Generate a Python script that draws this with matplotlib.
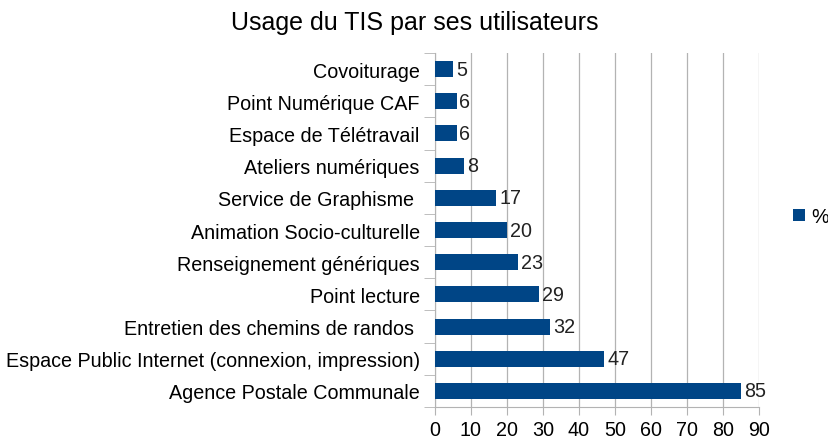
import matplotlib.pyplot as plt
import numpy as np

categories = [
    "Agence Postale Communale",
    "Espace Public Internet (connexion, impression)",
    "Entretien des chemins de randos ",
    "Point lecture",
    "Renseignement génériques",
    "Animation Socio-culturelle",
    "Service de Graphisme ",
    "Ateliers numériques",
    "Espace de Télétravail",
    "Point Numérique CAF",
    "Covoiturage",
]
values = [85, 47, 32, 29, 23, 20, 17, 8, 6, 6, 5]
xticks = [0, 10, 20, 30, 40, 50, 60, 70, 80, 90]

plt.rcParams['font.family'] = ['Liberation Sans', 'DejaVu Sans']
bar_color = '#004586'
grid_color = '#b3b3b3'
fs = 14.2

fig = plt.figure(figsize=(8.29, 4.39), dpi=100)
ax = fig.add_axes([0.5247, 0.0706, 0.3909, 0.8064])

y = np.arange(len(categories))
bars = ax.barh(y, values, height=0.5, color=bar_color, label='%', zorder=3)

for b, v in zip(bars, values):
    ax.text(b.get_width() + 0.8, b.get_y() + b.get_height() / 2, str(v),
            va='center', ha='left', fontsize=fs, color='#222222')

ax.set_xlim(0, 90)
ax.set_ylim(-0.5, len(categories) - 0.5)
ax.set_xticks(xticks)
ax.set_xticklabels([str(t) for t in xticks], fontsize=fs)
ax.set_yticks(y)
ax.set_yticklabels(categories, fontsize=fs)
ax.tick_params(axis='y', length=0, pad=11)
ax.set_yticks(np.arange(-0.5, len(categories)), minor=True)
ax.tick_params(axis='y', which='minor', length=8, color=grid_color)
ax.tick_params(axis='x', length=6, color=grid_color, pad=3)

ax.grid(axis='x', color=grid_color, linewidth=0.9, zorder=0)
for s in ['top', 'right']:
    ax.spines[s].set_visible(False)
for s in ['left', 'bottom']:
    ax.spines[s].set_color(grid_color)

fig.text(0.5, 0.948, "Usage du TIS par ses utilisateurs", ha='center', va='center', fontsize=18)

fig.legend(loc='center left', bbox_to_anchor=(0.957, 0.505), frameon=False,
           fontsize=fs, handlelength=0.6, handleheight=0.6, handletextpad=0.3,
           borderpad=0, borderaxespad=0)

fig.savefig('out.png', dpi=100)
